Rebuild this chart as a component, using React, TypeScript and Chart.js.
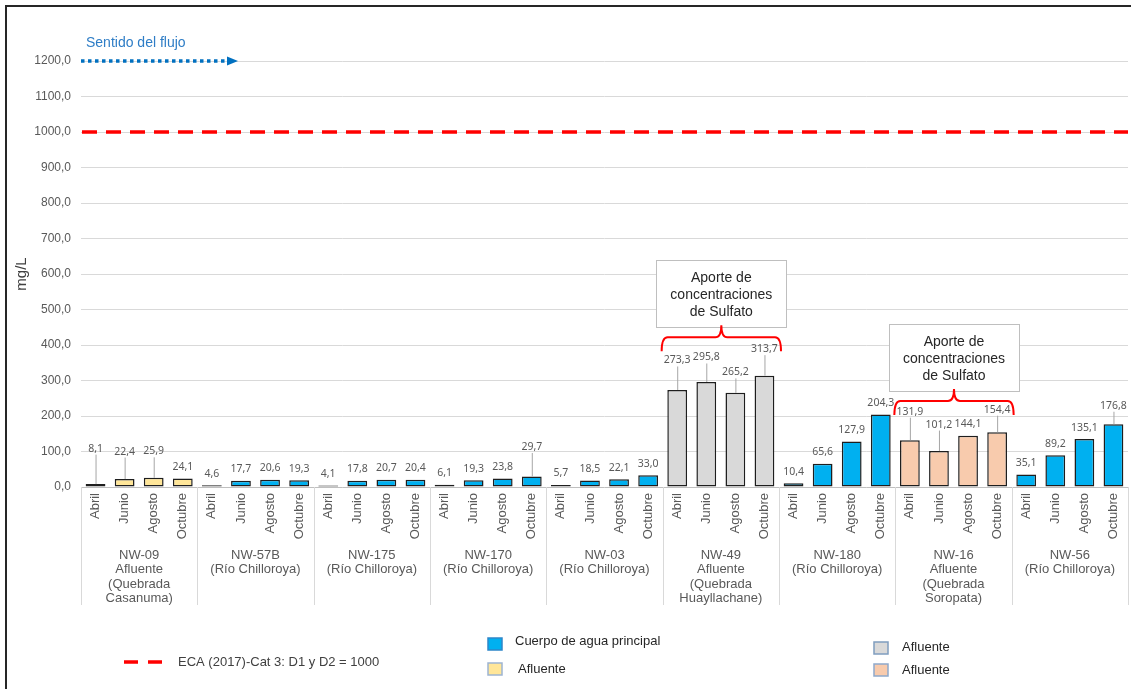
import React, { useEffect, useRef } from "react";
import { Chart, registerables } from "chart.js";

Chart.register(...registerables);

// Sampling campaigns per station
const months = ["Abril", "Junio", "Agosto", "Octubre"];

// Stations, in flow order
const stations = ["NW-09", "NW-57B", "NW-175", "NW-170", "NW-03", "NW-49", "NW-180", "NW-16", "NW-56"];
const stationNotes = [
  ["Afluente", "(Quebrada", "Casanuma)"],
  ["(Río Chilloroya)"],
  ["(Río Chilloroya)"],
  ["(Río Chilloroya)"],
  ["(Río Chilloroya)"],
  ["Afluente", "(Quebrada", "Huayllachane)"],
  ["(Río Chilloroya)"],
  ["Afluente", "(Quebrada", "Soropata)"],
  ["(Río Chilloroya)"],
];
const stationKind = [
  "casanuma",
  "principal",
  "principal",
  "principal",
  "principal",
  "huayllachane",
  "principal",
  "soropata",
  "principal",
];

// Sulfate concentration (mg/L) per station: Abril, Junio, Agosto, Octubre
const nw09 = [8.1, 22.4, 25.9, 24.1];
const nw57b = [4.6, 17.7, 20.6, 19.3];
const nw175 = [4.1, 17.8, 20.7, 20.4];
const nw170 = [6.1, 19.3, 23.8, 29.7];
const nw03 = [5.7, 18.5, 22.1, 33.0];
const nw49 = [273.3, 295.8, 265.2, 313.7];
const nw180 = [10.4, 65.6, 127.9, 204.3];
const nw16 = [131.9, 101.2, 144.1, 154.4];
const nw56 = [35.1, 89.2, 135.1, 176.8];
const sulfate = [nw09, nw57b, nw175, nw170, nw03, nw49, nw180, nw16, nw56];

// Environmental quality standard
const ecaLimit = 1000;
const ecaLabel = "ECA (2017)-Cat 3: D1 y D2 = 1000";

// Y axis range
const yMin = 0;
const yMax = 1200;
const yStep = 100;

// Stations flagged as sulfate contributors, with the level of the brace (mg/L)
const contributions = [
  { station: 5, level: 422 },
  { station: 7, level: 242 },
];
const contributionText = ["Aporte de", "concentraciones", "de Sulfato"];

const kindColor: Record<string, string> = {
  principal: "#00B0F0",
  casanuma: "#FFE699",
  huayllachane: "#D9D9D9",
  soropata: "#F8CBAD",
};

// Extra lift (px) for value labels that sit on a leader line, by bar index
const leaderLift: Record<number, number> = {
  0: 24, 1: 16, 2: 15, 15: 18, 20: 18, 21: 13, 22: 9, 23: 15, 28: 17, 29: 15, 31: 11, 35: 7,
};

const FONT = "'Liberation Sans', Arial, sans-serif";
const fmt = (v: number) => v.toFixed(1).replace(".", ",");

const labels: string[] = [];
const values: number[] = [];
const colors: string[] = [];
sulfate.forEach((row, s) => {
  row.forEach((v, m) => {
    labels.push(months[m]);
    values.push(v);
    colors.push(kindColor[stationKind[s]]);
  });
});

const overlay = {
  id: "overlay",
  afterDraw(chart: any) {
    const ctx: CanvasRenderingContext2D = chart.ctx;
    const area = chart.chartArea;
    const x = chart.scales.x;
    const y = chart.scales.y;
    const groupW = (area.right - area.left) / stations.length;
    ctx.save();

    // frame
    ctx.strokeStyle = "#262626";
    ctx.lineWidth = 2;
    ctx.beginPath();
    ctx.moveTo(6, 689);
    ctx.lineTo(6, 6);
    ctx.lineTo(1131, 6);
    ctx.stroke();

    // axis title
    ctx.save();
    ctx.translate(22, (area.top + area.bottom) / 2);
    ctx.rotate(-Math.PI / 2);
    ctx.fillStyle = "#404040";
    ctx.font = `15px ${FONT}`;
    ctx.textAlign = "center";
    ctx.textBaseline = "middle";
    ctx.fillText("mg/L", 0, 0);
    ctx.restore();

    // ECA limit line
    const yEca = y.getPixelForValue(ecaLimit);
    ctx.strokeStyle = "#FF0000";
    ctx.lineWidth = 3.5;
    ctx.setLineDash([15, 9]);
    ctx.beginPath();
    ctx.moveTo(area.left + 1, yEca);
    ctx.lineTo(area.right, yEca);
    ctx.stroke();
    ctx.setLineDash([]);

    // flow direction
    const yTop = y.getPixelForValue(yMax);
    ctx.fillStyle = "#2E7DC6";
    ctx.font = `14px ${FONT}`;
    ctx.textAlign = "left";
    ctx.textBaseline = "middle";
    ctx.fillText("Sentido del flujo", area.left + 5, yTop - 18);
    ctx.strokeStyle = "#0070C0";
    ctx.lineWidth = 3.5;
    ctx.setLineDash([3.5, 3.5]);
    ctx.beginPath();
    ctx.moveTo(area.left, yTop);
    ctx.lineTo(area.left + 146, yTop);
    ctx.stroke();
    ctx.setLineDash([]);
    ctx.fillStyle = "#0070C0";
    ctx.beginPath();
    ctx.moveTo(area.left + 146, yTop - 4.5);
    ctx.lineTo(area.left + 157, yTop);
    ctx.lineTo(area.left + 146, yTop + 4.5);
    ctx.closePath();
    ctx.fill();

    // value labels
    ctx.font = `10.5px 'Noto Sans', sans-serif`;
    ctx.textAlign = "center";
    ctx.textBaseline = "middle";
    values.forEach((v, i) => {
      const px = x.getPixelForValue(i);
      const top = y.getPixelForValue(v);
      const lift = leaderLift[i] || 0;
      const ly = top - 11.5 - lift;
      if (lift > 0) {
        ctx.strokeStyle = "#a6a6a6";
        ctx.lineWidth = 1;
        ctx.beginPath();
        ctx.moveTo(px + 0.5, ly + 6);
        ctx.lineTo(px + 0.5, top);
        ctx.stroke();
      }
      ctx.fillStyle = "#595959";
      ctx.fillText(fmt(v), px, ly);
    });

    // station separators and names
    ctx.strokeStyle = "#d9d9d9";
    ctx.lineWidth = 1;
    for (let g = 0; g <= stations.length; g++) {
      const gx = Math.round(area.left + g * groupW) + 0.5;
      ctx.beginPath();
      ctx.moveTo(gx, area.bottom);
      ctx.lineTo(gx, area.bottom + 118);
      ctx.stroke();
    }
    ctx.fillStyle = "#595959";
    ctx.font = `13px ${FONT}`;
    ctx.textAlign = "center";
    stations.forEach((name, g) => {
      const cx = area.left + (g + 0.5) * groupW;
      const lines = [name, ...stationNotes[g]];
      lines.forEach((t, k) => ctx.fillText(t, cx, area.bottom + 68 + k * 14.5));
    });

    // sulfate contribution callouts
    contributions.forEach(({ station, level }) => {
      const x0 = area.left + station * groupW - 1;
      const x1 = area.left + (station + 1) * groupW + 2;
      const xc = (x0 + x1) / 2;
      const yMid = y.getPixelForValue(level);
      const yEnd = yMid + 14;
      const yPeak = yMid - 12;
      const r = 6;
      const bw = 130;
      const bh = 67;
      const bTop = yMid - 10 - bh;
      ctx.fillStyle = "#ffffff";
      ctx.fillRect(xc - bw / 2, bTop, bw, bh);
      ctx.strokeStyle = "#bfbfbf";
      ctx.lineWidth = 1;
      ctx.strokeRect(Math.round(xc - bw / 2) + 0.5, Math.round(bTop) + 0.5, bw, bh);
      ctx.fillStyle = "#262626";
      ctx.font = `14px ${FONT}`;
      contributionText.forEach((t, k) => ctx.fillText(t, xc, bTop + 18 + k * 17));
      ctx.strokeStyle = "#FF0000";
      ctx.lineWidth = 2;
      ctx.beginPath();
      ctx.moveTo(x0, yEnd);
      ctx.quadraticCurveTo(x0, yMid, x0 + r, yMid);
      ctx.lineTo(xc - r, yMid);
      ctx.quadraticCurveTo(xc, yMid, xc, yPeak);
      ctx.quadraticCurveTo(xc, yMid, xc + r, yMid);
      ctx.lineTo(x1 - r, yMid);
      ctx.quadraticCurveTo(x1, yMid, x1, yEnd);
      ctx.stroke();
    });

    // legend
    ctx.strokeStyle = "#FF0000";
    ctx.lineWidth = 3.5;
    ctx.setLineDash([14, 10]);
    ctx.beginPath();
    ctx.moveTo(124, 662);
    ctx.lineTo(162, 662);
    ctx.stroke();
    ctx.setLineDash([]);
    ctx.fillStyle = "#404040";
    ctx.font = `13px ${FONT}`;
    ctx.textAlign = "left";
    ctx.fillText(ecaLabel, 178, 662);

    const items = [
      { kind: "principal", text: "Cuerpo de agua principal", bx: 488, by: 638, tx: 515, ty: 641, edge: "#2E86C9" },
      { kind: "casanuma", text: "Afluente", bx: 488, by: 663, tx: 518, ty: 669, edge: "#9DB4D2" },
      { kind: "huayllachane", text: "Afluente", bx: 874, by: 642, tx: 902, ty: 647, edge: "#7F9DBF" },
      { kind: "soropata", text: "Afluente", bx: 874, by: 664, tx: 902, ty: 670, edge: "#8EA9CB" },
    ];
    items.forEach((it) => {
      ctx.fillStyle = kindColor[it.kind];
      ctx.fillRect(it.bx, it.by, 14, 12);
      ctx.strokeStyle = it.edge;
      ctx.lineWidth = 1.5;
      ctx.strokeRect(it.bx, it.by, 14, 12);
      ctx.fillStyle = "#262626";
      ctx.fillText(it.text, it.tx, it.ty);
    });

    ctx.restore();
  },
};

export default function App() {
  const ref = useRef<HTMLCanvasElement | null>(null);

  useEffect(() => {
    if (!ref.current) return;
    const chart = new Chart(ref.current, {
      type: "bar",
      data: {
        labels,
        datasets: [
          {
            data: values,
            backgroundColor: colors,
            borderColor: "#1e1e1e",
            borderWidth: 1.5,
            borderSkipped: false,
            barPercentage: 0.68,
            categoryPercentage: 1,
          },
        ],
      },
      options: {
        responsive: false,
        maintainAspectRatio: false,
        animation: false,
        layout: { padding: { top: 61, right: 3, left: 0, bottom: 0 } },
        plugins: { legend: { display: false }, tooltip: { enabled: false } },
        scales: {
          x: {
            grid: { display: false, drawTicks: false },
            border: { display: false },
            ticks: {
              autoSkip: false,
              minRotation: 90,
              maxRotation: 90,
              padding: 6,
              color: "#595959",
              font: { family: FONT, size: 13 },
            },
            afterFit: (s: any) => {
              s.height = 202;
              s.paddingLeft = 0;
              s.paddingRight = 0;
            },
          },
          y: {
            min: yMin,
            max: yMax,
            ticks: {
              stepSize: yStep,
              padding: 10,
              color: "#595959",
              font: { family: FONT, size: 12 },
              callback: (v: any) => fmt(Number(v)),
            },
            grid: {
              drawTicks: false,
              color: (c: any) => (c.tick && c.tick.value === 0 ? "#bfbfbf" : "#d9d9d9"),
            },
            border: { display: false },
            afterFit: (s: any) => {
              s.width = 81;
            },
          },
        },
      },
      plugins: [overlay],
    } as any);
    return () => chart.destroy();
  }, []);

  return (
    <div style={{ position: "absolute", left: 0, top: 0, width: 1131, height: 689, background: "#fff" }}>
      <canvas ref={ref} width={1131} height={689} style={{ display: "block" }} />
    </div>
  );
}
